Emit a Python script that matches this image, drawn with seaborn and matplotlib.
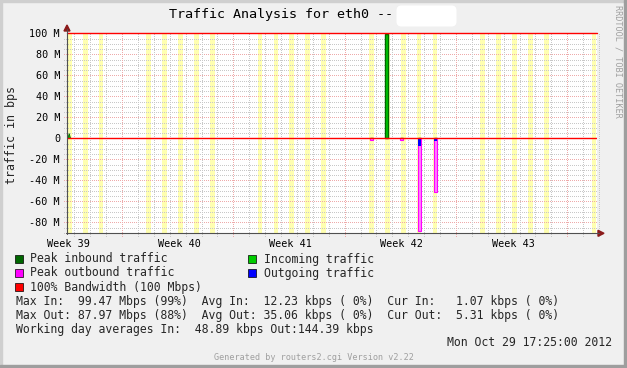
import numpy as np
import pandas as pd
import matplotlib
matplotlib.use("Agg")
import matplotlib.pyplot as plt
import seaborn as sns
from matplotlib.patches import Rectangle, Polygon, FancyBboxPatch
from matplotlib.transforms import IdentityTransform

# ---------------- data ----------------
week_labels = ["Week 39", "Week 40", "Week 41", "Week 42", "Week 43"]
week_label_days = [0.06, 7.06, 14.06, 21.06, 28.06]     # days from left edge
week_grid_days = [3.46, 10.46, 17.46, 24.46, 31.46]
day_grid_days = [0.46 + k for k in range(34)]
working_days = [0, 1, 2, 5, 6, 7, 8, 9, 12, 13, 14, 15, 16, 19, 20, 21, 22, 23,
                26, 27, 28, 29, 30, 33]
span_days = 33.33

# traffic events (Mbps)
event_start = [19.06, 19.98, 20.97, 22.08, 23.08]
event_width = [0.18, 0.19, 0.16, 0.20, 0.19]
peak_in = [0.0, 99.47, 0.0, 0.0, 0.0]
avg_in = [0.0, 99.0, 0.0, 0.0, 0.0]
peak_out = [1.5, 0.0, 1.5, 87.97, 50.8]
avg_out = [0.4, 0.0, 0.4, 7.0, 2.5]
blip_day, blip_in = 0.14, 4.5

bandwidth = 100.0
y_ticks = [100, 80, 60, 40, 20, 0, -20, -40, -60, -80]
y_ticklabels = ["100 M", "80 M", "60 M", "40 M", "20 M", "0",
                "-20 M", "-40 M", "-60 M", "-80 M"]

legend_items = [("Peak inbound traffic", "#006600"), ("Incoming traffic", "#00cc00"),
                ("Peak outbound traffic", "#ff00ff"), ("Outgoing traffic", "#0000ff"),
                ("100% Bandwidth (100 Mbps)", "#ff0000")]
stats_lines = [
    "Max In:  99.47 Mbps (99%)  Avg In:  12.23 kbps ( 0%)  Cur In:   1.07 kbps ( 0%)",
    "Max Out: 87.97 Mbps (88%)  Avg Out: 35.06 kbps ( 0%)  Cur Out:  5.31 kbps ( 0%)",
    "Working day averages In:  48.89 kbps Out:144.39 kbps",
]
title = "Traffic Analysis for eth0 -- "
date_text = "Mon Oct 29 17:25:00 2012"
gen_text = "Generated by routers2.cgi Version v2.22"
watermark = "RRDTOOL / TOBI OETIKER"

# ---------------- style ----------------
sns.set_style("white")
plt.rcParams["font.family"] = ["DejaVu Sans Mono"]

W, H = 627, 368
fig = plt.figure(figsize=(W / 100, H / 100), dpi=100, facecolor="#f0f0f0")


def fx(x):
    return x / W


def fy(y):
    return 1 - y / H


L, R, T, B = 67, 597, 33.3, 233.3
ax = fig.add_axes([fx(L), fy(B), (R - L) / W, (B - T) / H])
ax.set_facecolor("white")
ax.set_xlim(0, span_days)
ax.set_ylim(-90.5, 100)
for s in ax.spines.values():
    s.set_visible(False)

# working-hour stripes
for d in working_days:
    ax.axvspan(d + 0.14 - 0.15, d + 0.14 + 0.15, color="#ffffb0", lw=0, zorder=0)

# grid
dot = (0, (1, 2))
gkw = dict(lw=0.72, ls=dot, clip_on=False, zorder=1, antialiased=False)
grey_c, red_c = "#c8c8c8", "#eeaaaa"
for y in np.arange(-90, 101, 5):
    if y % 20 == 0:
        continue
    ax.axhline(y, xmin=-0.006, xmax=1, color=grey_c, **gkw)
for y in y_ticks:
    if y in (0, 100):
        continue
    ax.axhline(y, xmin=-0.006, xmax=1, color=red_c, **gkw)
for d in day_grid_days:
    if any(abs(d - w) < 0.01 for w in week_grid_days):
        continue
    ax.axvline(d, ymin=-0.012, ymax=1, color=grey_c, **gkw)
for d in week_grid_days:
    ax.axvline(d, ymin=-0.012, ymax=1, color=red_c, **gkw)

# traffic
df = pd.DataFrame({"start": event_start, "width": event_width, "peak_in": peak_in,
                   "avg_in": avg_in, "peak_out": peak_out, "avg_out": avg_out})
ax.bar(df["start"], df["peak_in"], width=df["width"], align="edge",
       color="#00cc00", edgecolor="#006600", lw=1.0, zorder=3)
ax.bar(df["start"], -df["peak_out"], width=df["width"], align="edge",
       color="#ff80ff", edgecolor="#ff00ff", lw=0.8, zorder=3)
ax.bar(df["start"], -df["avg_out"], width=df["width"], align="edge",
       color="#0000ff", lw=0, zorder=4)
ax.fill([blip_day - 0.08, blip_day, blip_day + 0.08], [0, blip_in, 0],
        color="#00cc00", edgecolor="#006600", lw=0.6, zorder=3)

# 100% bandwidth and zero lines
bw = pd.DataFrame({"x": [0, span_days], "y": [bandwidth, bandwidth]})
sns.lineplot(data=bw, x="x", y="y", color="#ff0000", lw=1.0, ax=ax, clip_on=False, zorder=5)
ax.axhline(0, color="#ff0000", lw=1.0, zorder=5)

# ticks
ax.set_yticks(y_ticks)
ax.set_yticklabels(y_ticklabels)
ax.set_xticks(week_label_days)
ax.set_xticklabels(week_labels)
ax.tick_params(axis="both", length=0, labelsize=7.3, colors="black")
ax.tick_params(axis="y", pad=5)
ax.tick_params(axis="x", pad=4)
ax.set_xlabel("")
ax.set_ylabel("")

# axis lines and arrows (figure pixel space)
axis_col = "#505050"
arrow_col = "#8b1a1a"
fig.add_artist(plt.Line2D([fx(L), fx(L)], [fy(B + 1), fy(29)], color=axis_col, lw=0.8))
fig.add_artist(plt.Line2D([fx(L - 1), fx(599)], [fy(B), fy(B)], color=axis_col, lw=0.8))
fig.add_artist(Polygon([(fx(L - 3), fy(31)), (fx(L + 3), fy(31)), (fx(L), fy(25))],
                       closed=True, color=arrow_col, transform=fig.transFigure))
fig.add_artist(Polygon([(fx(598), fy(B - 3)), (fx(598), fy(B + 3)), (fx(604), fy(B))],
                       closed=True, color=arrow_col, transform=fig.transFigure))

# frame
fig.add_artist(Rectangle((0, fy(H)), fx(2), 1, color="#cfcfcf", transform=fig.transFigure))
fig.add_artist(Rectangle((0, fy(2)), 1, 2 / H, color="#cfcfcf", transform=fig.transFigure))
fig.add_artist(Rectangle((fx(W - 3), 0), fx(3), 1, color="#9e9e9e", transform=fig.transFigure))
fig.add_artist(Rectangle((0, 0), 1, 3 / H, color="#9e9e9e", transform=fig.transFigure))

# title
fig.text(fx(169), fy(14.5), title, ha="left", va="center", fontsize=9.6, color="black")
fig.add_artist(FancyBboxPatch((399, H - 24), 55, 16, boxstyle="round,pad=2.5,rounding_size=5",
                              facecolor="white", edgecolor="none", transform=IdentityTransform()))

# y label and watermark
fig.text(fx(12), fy(135), "traffic in bps", rotation=90, ha="center", va="center", fontsize=8.4)
fig.text(fx(618), fy(5), watermark, rotation=270, ha="center", va="top", fontsize=6.1,
         color="#a0a0a0")

# legend
rows = [259, 273, 287]
positions = [(15, rows[0]), (248, rows[0]), (15, rows[1]), (248, rows[1]), (15, rows[2])]
for (label, col), (x, y) in zip(legend_items, positions):
    fig.add_artist(Rectangle((fx(x), fy(y + 4)), 8 / W, 8 / H, facecolor=col,
                             edgecolor="black", lw=0.5, transform=fig.transFigure))
    fig.text(fx(x + 15.5), fy(y), label, ha="left", va="center", fontsize=8.3)

for line, y in zip(stats_lines, [301, 315, 329]):
    fig.text(fx(16.5), fy(y), line, ha="left", va="center", fontsize=8.3)

fig.text(fx(612), fy(343), date_text, ha="right", va="center", fontsize=8.3)
fig.text(fx(314), fy(357), gen_text, ha="center", va="center", fontsize=6.1, color="#a0a0a0")

fig.savefig("out.png", dpi=100, facecolor=fig.get_facecolor())
